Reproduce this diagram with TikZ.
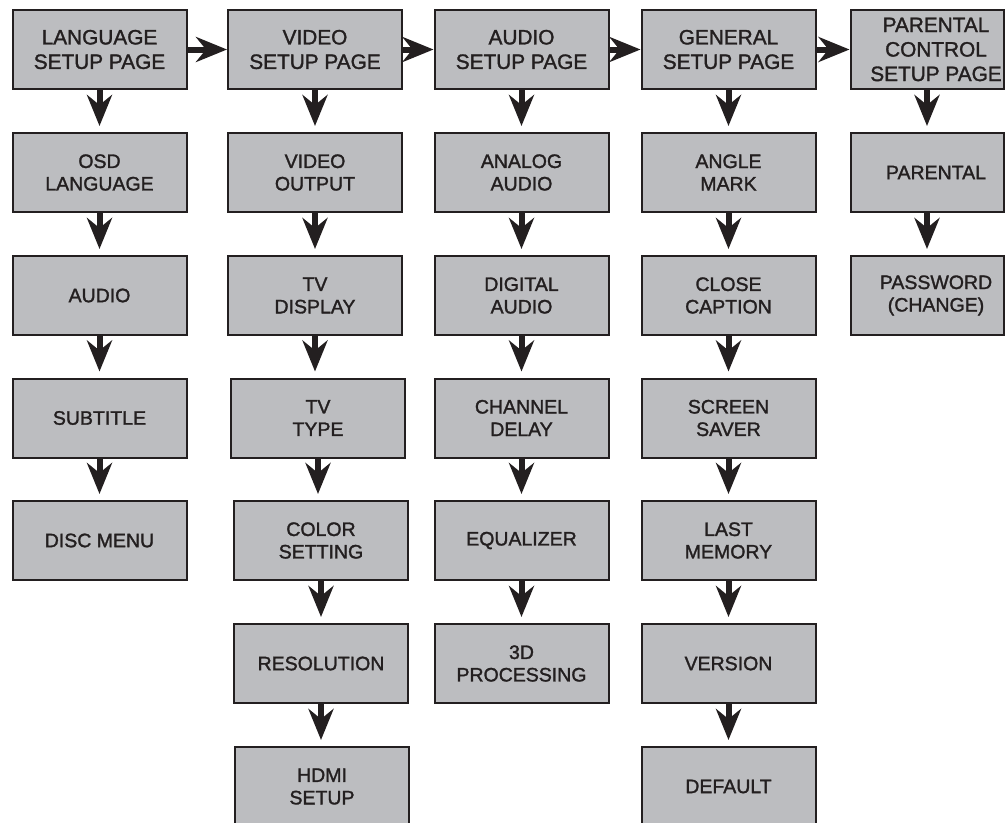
\documentclass[tikz,border=0pt]{standalone}
\usepackage{fontspec}
\setmainfont{Liberation Sans}[FakeBold=1.5]
\usetikzlibrary{arrows.meta}
\definecolor{boxfill}{HTML}{BCBDC0}
\definecolor{ink}{HTML}{231F20}
\newcommand{\pad}{\hspace*{18pt}}
\tikzset{
  menubox/.style={draw=ink, line width=2pt, fill=boxfill, text=ink, inner sep=0pt,
    minimum width=174pt, minimum height=79pt, align=center,
    font=\fontsize{19.5pt}{22.5pt}\selectfont},
  headbox/.style={menubox, font=\fontsize{20.8pt}{24.5pt}\selectfont},
  narrowbox/.style={minimum width=153pt},
  flow/.style={draw=ink, line width=6pt,
    -{Stealth[length=31pt, width=25pt, inset=10pt, fill=ink]}},
  down/.style={flow, shorten >=6pt},
  right/.style={flow}
}
\begin{document}
\begin{tikzpicture}[x=1pt, y=-1pt]
\useasboundingbox (0,0) rectangle (1006,822);
% column 1
\node[headbox] (l1) at (99.5,49.5) {LANGUAGE\\SETUP PAGE};
\node[menubox] (l2) at (99.5,172.5) {OSD\\LANGUAGE};
\node[menubox] (l3) at (99.5,295.5) {AUDIO};
\node[menubox] (l4) at (99.5,418) {SUBTITLE};
\node[menubox] (l5) at (99.5,540.5) {DISC MENU};
% column 2
\node[headbox] (v1) at (315,49.5) {VIDEO\\SETUP PAGE};
\node[menubox] (v2) at (315,172.5) {VIDEO\\OUTPUT};
\node[menubox] (v3) at (315,295.5) {TV\\DISPLAY};
\node[menubox] (v4) at (318,418) {TV\\TYPE};
\node[menubox] (v5) at (321,540.5) {COLOR\\SETTING};
\node[menubox] (v6) at (321,663.5) {RESOLUTION};
\node[menubox] (v7) at (322,786.5) {HDMI\\SETUP};
% column 3
\node[headbox] (a1) at (521.5,49.5) {AUDIO\\SETUP PAGE};
\node[menubox] (a2) at (521.5,172.5) {ANALOG\\AUDIO};
\node[menubox] (a3) at (521.5,295.5) {DIGITAL\\AUDIO};
\node[menubox] (a4) at (521.5,418) {CHANNEL\\DELAY};
\node[menubox] (a5) at (521.5,540.5) {EQUALIZER};
\node[menubox] (a6) at (521.5,663.5) {3D\\PROCESSING};
% column 4
\node[headbox] (g1) at (728.5,49.5) {GENERAL\\SETUP PAGE};
\node[menubox] (g2) at (728.5,172.5) {ANGLE\\MARK};
\node[menubox] (g3) at (728.5,295.5) {CLOSE\\CAPTION};
\node[menubox] (g4) at (728.5,418) {SCREEN\\SAVER};
\node[menubox] (g5) at (728.5,540.5) {LAST\\MEMORY};
\node[menubox] (g6) at (728.5,663.5) {VERSION};
\node[menubox] (g7) at (728.5,786.5) {DEFAULT};
% column 5
\node[headbox, narrowbox] (p1) at (927,49.5) {\pad PARENTAL\\\pad CONTROL\\\pad SETUP PAGE};
\node[menubox, narrowbox] (p2) at (927,172.5) {\pad PARENTAL};
\node[menubox, narrowbox] (p3) at (927,295.5) {\pad PASSWORD\\\pad (CHANGE)};
% horizontal arrows
\draw[right] (l1.east) -- (v1.west);
\draw[right] (v1.east) -- (a1.west);
\draw[right] (a1.east) -- (g1.west);
\draw[right] (g1.east) -- (p1.west);
% vertical arrows
\foreach \a/\b in {l1/l2,l2/l3,l3/l4,l4/l5,
  v1/v2,v2/v3,v3/v4,v4/v5,v5/v6,v6/v7,
  a1/a2,a2/a3,a3/a4,a4/a5,a5/a6,
  g1/g2,g2/g3,g3/g4,g4/g5,g5/g6,g6/g7,
  p1/p2,p2/p3}{
  \draw[down] (\a.south) -- (\a.south |- \b.north);
}
\end{tikzpicture}
\end{document}
